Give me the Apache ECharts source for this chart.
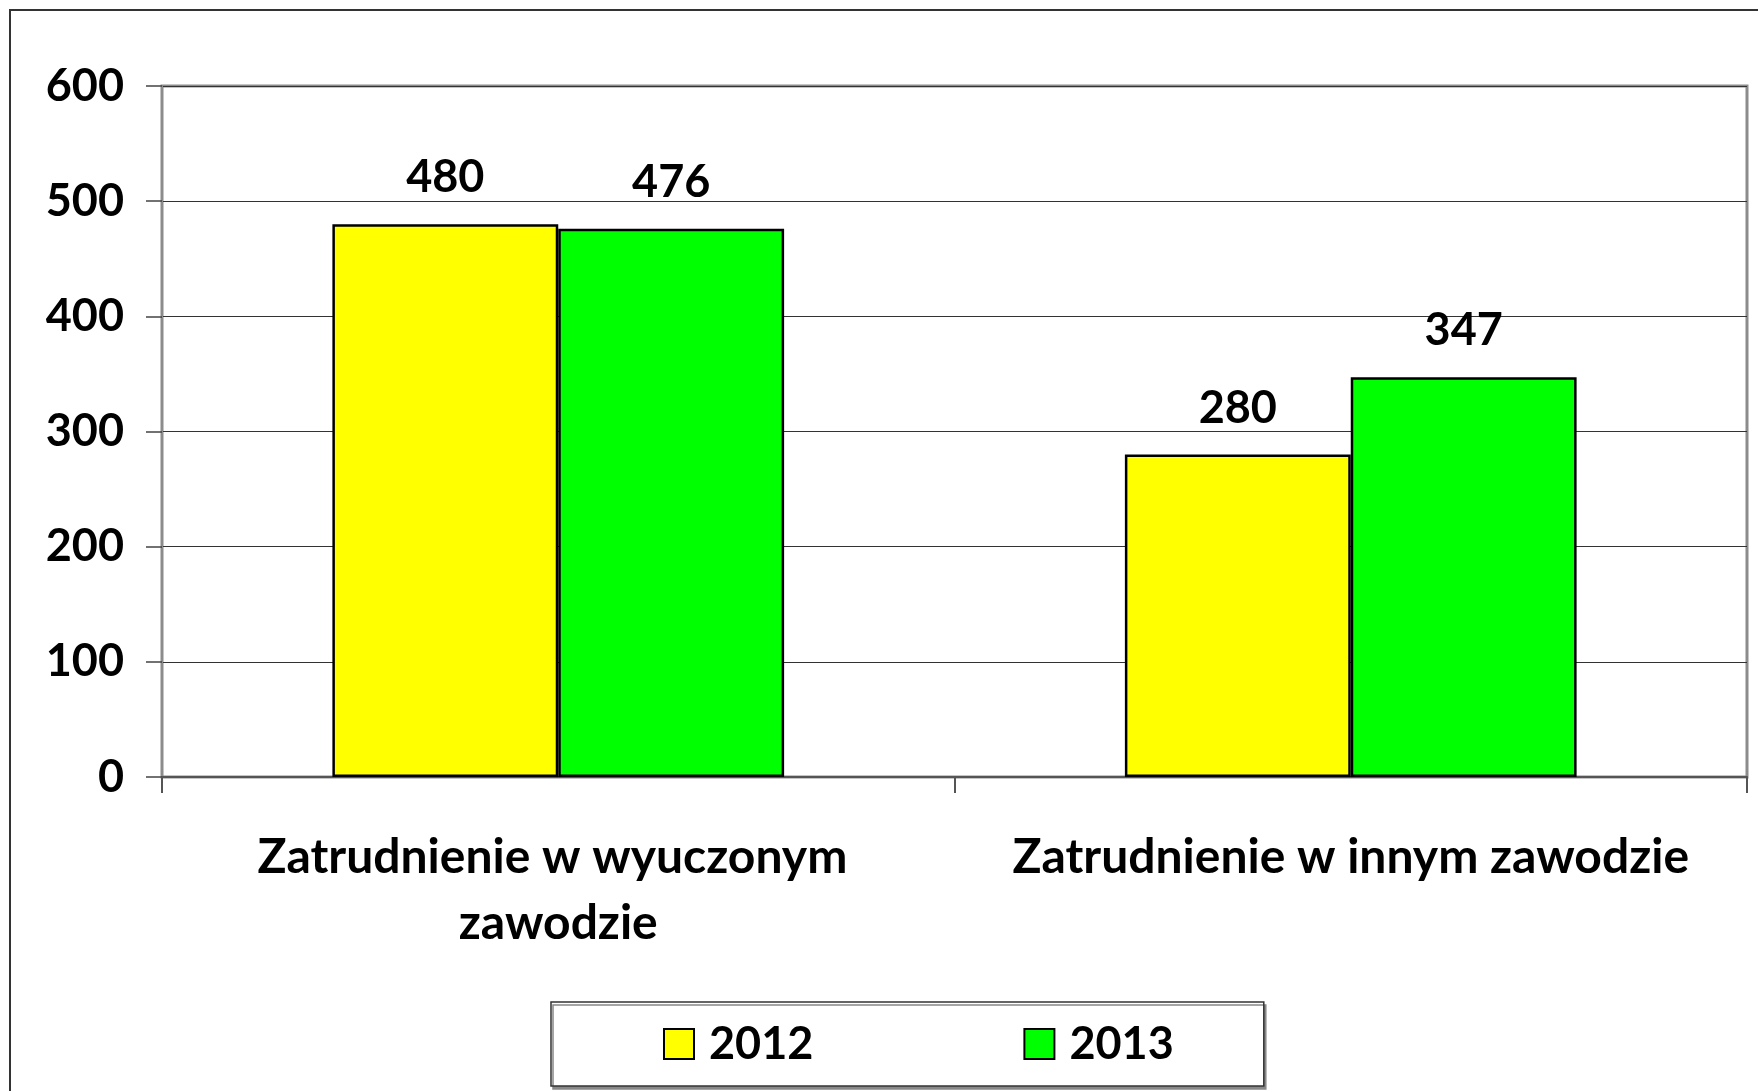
<!DOCTYPE html>
<html>
<head>
<meta charset="utf-8">
<script src="https://cdn.jsdelivr.net/npm/echarts@6/dist/echarts.min.js"></script>
<style>
  html, body { margin: 0; padding: 0; background: #fff; }
  #chart { width: 1758px; height: 1091px; }
</style>
</head>
<body>
<div id="chart"></div>
<script>
// data
const categories = ['Zatrudnienie w wyuczonym zawodzie', 'Zatrudnienie w innym zawodzie'];
const seriesNames = ['2012', '2013'];
const values2012 = [480, 280];
const values2013 = [476, 347];
const yTicks = [0, 100, 200, 300, 400, 500, 600];

const FONT = 'Lato';
const colors = ['#ffff00', '#00ff00'];

const myChart = echarts.init(document.getElementById('chart'));

function barSeries(name, data, color) {
  return {
    name: name,
    type: 'bar',
    data: data,
    barGap: '0%',
    barCategoryGap: '43%',
    itemStyle: { color: color, borderColor: '#000', borderWidth: 2.5 },
    label: {
      show: true,
      position: 'top',
      distance: 24,
      color: '#000',
      fontFamily: FONT,
      fontWeight: 'bold',
      fontSize: 45
    }
  };
}

const option = {
  animation: false,
  backgroundColor: '#fff',
  graphic: [{
    type: 'rect',
    shape: { x: 10, y: 10, width: 1900, height: 1300 },
    style: { fill: 'none', stroke: '#333', lineWidth: 2 },
    silent: true,
    z: -1
  }],
  grid: {
    left: 162, right: 11, top: 86, bottom: 314,
    show: true,
    borderColor: '#8c8c8c',
    borderWidth: 3,
    backgroundColor: 'transparent'
  },
  legend: {
    data: seriesNames,
    left: 551,
    top: 1002,
    orient: 'horizontal',
    padding: [18, 90, 18, 112],
    itemGap: 210,
    itemWidth: 30,
    itemHeight: 30,
    icon: 'rect',
    backgroundColor: '#fff',
    borderColor: '#333',
    borderWidth: 1.5,
    shadowColor: '#888',
    shadowBlur: 0,
    shadowOffsetX: 2,
    shadowOffsetY: 3,
    itemStyle: { borderColor: '#000', borderWidth: 2 },
    textStyle: {
      color: '#000',
      fontFamily: FONT,
      fontWeight: 'bold',
      fontSize: 45,
      lineHeight: 48,
      padding: [0, 0, 0, 10]
    }
  },
  xAxis: {
    type: 'category',
    data: categories,
    axisLine: { lineStyle: { color: '#555', width: 2 } },
    axisTick: { show: true, length: 16, alignWithLabel: false, lineStyle: { color: '#555', width: 2 } },
    axisLabel: {
      interval: 0,
      margin: 48,
      color: '#000',
      fontFamily: FONT,
      fontWeight: 'bold',
      fontSize: 48,
      lineHeight: 66,
      width: 720,
      overflow: 'break'
    },
    splitLine: { show: false }
  },
  yAxis: {
    type: 'value',
    min: yTicks[0],
    max: yTicks[yTicks.length - 1],
    interval: 100,
    axisLine: { show: true, lineStyle: { color: '#8c8c8c', width: 2 } },
    axisTick: { show: true, length: 16, lineStyle: { color: '#444', width: 1.5 } },
    axisLabel: {
      margin: 38,
      color: '#000',
      fontFamily: FONT,
      fontWeight: 'bold',
      fontSize: 45
    },
    splitLine: { lineStyle: { color: '#333', width: 1.2 } }
  },
  series: [
    barSeries(seriesNames[0], values2012, colors[0]),
    barSeries(seriesNames[1], values2013, colors[1])
  ]
};

myChart.setOption(option);
window.addEventListener('resize', function () { myChart.resize(); });
</script>
</body>
</html>
